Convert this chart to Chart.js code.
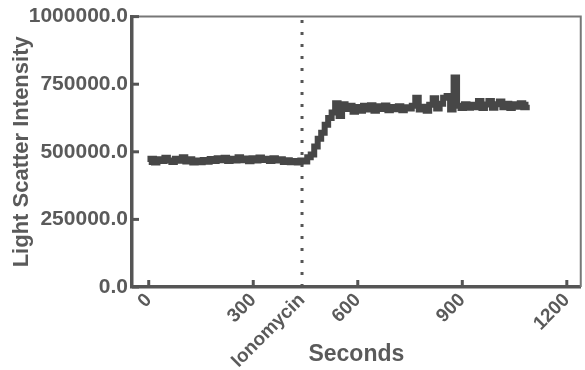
<!DOCTYPE html>
<html>
<head>
<meta charset="utf-8">
<script src="https://cdn.jsdelivr.net/npm/chart.js@4.4.1/dist/chart.umd.min.js"></script>
<style>
  body { margin: 0; background: #fff; }
  #wrap { width: 585px; height: 370px; }
</style>
</head>
<body>
<div id="wrap"><canvas id="scatterChart"></canvas></div>
<script>
// light scatter trace, one reading every 10 s
var seconds = [0, 10, 20, 30, 40, 50, 60, 70, 80, 90,
  100, 110, 120, 130, 140, 150, 160, 170, 180, 190,
  200, 210, 220, 230, 240, 250, 260, 270, 280, 290,
  300, 310, 320, 330, 340, 350, 360, 370, 380, 390,
  400, 410, 420, 430, 440, 450, 460, 470, 480, 490,
  500, 510, 520, 530, 540, 550, 560, 570, 580, 590,
  600, 610, 620, 630, 640, 650, 660, 670, 680, 690,
  700, 710, 720, 730, 740, 750, 760, 770, 780, 790,
  800, 810, 820, 830, 840, 850, 860, 870, 880, 890,
  900, 910, 920, 930, 940, 950, 960, 970, 980, 990,
  1000, 1010, 1020, 1030, 1040, 1050, 1060, 1070, 1080, 1090]
var intensity = [462000, 474000, 460000, 472000, 466000, 478000, 468000, 462000, 474000, 467000,
  480000, 464000, 472000, 460000, 468000, 461000, 470000, 463000, 473000, 466000,
  476000, 469000, 478000, 466000, 474000, 468000, 480000, 469000, 475000, 465000,
  476000, 468000, 479000, 470000, 474000, 466000, 476000, 468000, 472000, 462000,
  469000, 461000, 466000, 460000, 468000, 464000, 480000, 490000, 520000, 548000,
  570000, 600000, 625000, 645000, 680000, 632000, 676000, 658000, 670000, 648000,
  666000, 652000, 670000, 656000, 672000, 652000, 668000, 658000, 671000, 654000,
  666000, 657000, 668000, 654000, 665000, 660000, 670000, 700000, 656000, 667000,
  652000, 674000, 698000, 660000, 678000, 700000, 706000, 656000, 775000, 670000,
  662000, 676000, 663000, 674000, 665000, 688000, 662000, 675000, 688000, 663000,
  676000, 686000, 665000, 678000, 662000, 676000, 667000, 680000, 665000, 674000]

var ionomycinTime = 440
var xTicks = [0, 300, 440, 600, 900, 1200]
var xTickLabels = ['0', '300', 'Ionomycin', '600', '900', '1200']
var xTickMarks = [0, 300, 600, 900, 1200]
var yTicks = [0, 250000, 500000, 750000, 1000000]

var ink = '#555555'
var textColor = '#5a5a5a'

// inward tick marks plus the thin top/right frame
var framePlugin = {
  id: 'frame',
  afterDraw: function (chart) {
    var ctx = chart.ctx
    var area = chart.chartArea
    var xs = chart.scales.x
    var ys = chart.scales.y
    ctx.save()
    ctx.strokeStyle = '#777777'
    ctx.lineWidth = 2
    ctx.beginPath()
    ctx.moveTo(area.left, area.top)
    ctx.lineTo(area.right, area.top)
    ctx.lineTo(area.right, area.bottom)
    ctx.stroke()

    ctx.strokeStyle = ink
    ctx.lineWidth = 3
    xTickMarks.forEach(function (v) {
      var px = xs.getPixelForValue(v)
      ctx.beginPath()
      ctx.moveTo(px, area.bottom)
      ctx.lineTo(px, area.bottom - 7)
      ctx.stroke()
    })
    yTicks.forEach(function (v) {
      var py = ys.getPixelForValue(v)
      ctx.beginPath()
      ctx.moveTo(area.left, py)
      ctx.lineTo(area.left + 7, py)
      ctx.stroke()
    })
    ctx.restore()
  }
}

var traceData = seconds.map(function (s, i) {
  return { x: s, y: intensity[i] }
})

var chart = new Chart(document.getElementById('scatterChart').getContext('2d'), {
  type: 'line',
  data: {
    datasets: [{
        label: 'Light scatter',
        data: traceData,
        borderColor: '#474747',
        borderWidth: 6,
        stepped: 'middle',
        pointRadius: 0,
        fill: false
      },
      {
        label: 'Ionomycin',
        data: [{ x: ionomycinTime, y: yTicks[0] }, { x: ionomycinTime, y: yTicks[yTicks.length - 1] }],
        borderColor: ink,
        borderWidth: 3,
        borderDash: [3, 9],
        pointRadius: 0,
        fill: false
      }
    ]
  },
  options: {
    animation: false,
    responsive: true,
    maintainAspectRatio: false,
    layout: {
      padding: { top: 16, right: 2, left: 0, bottom: 0 }
    },
    plugins: {
      legend: { display: false },
      tooltip: { enabled: false }
    },
    scales: {
      x: {
        type: 'linear',
        min: -48,
        max: 1240,
        afterBuildTicks: function (scale) {
          scale.ticks = xTicks.map(function (v) { return { value: v } })
        },
        afterFit: function (scale) { scale.height = 83 },
        grid: { display: false, drawTicks: false },
        border: { display: true, color: ink, width: 3.5 },
        ticks: {
          autoSkip: false,
          minRotation: 45,
          maxRotation: 45,
          padding: 2,
          color: textColor,
          font: { family: 'Liberation Sans', weight: 'bold', size: 19 },
          callback: function (value) {
            var i = xTicks.indexOf(value)
            return i >= 0 ? xTickLabels[i] : ''
          }
        },
        title: {
          display: true,
          text: 'Seconds',
          color: textColor,
          padding: { top: 0, bottom: 2 },
          font: { family: 'Liberation Sans', weight: 'bold', size: 23 }
        }
      },
      y: {
        min: 0,
        max: 1000000,
        afterBuildTicks: function (scale) {
          scale.ticks = yTicks.map(function (v) { return { value: v } })
        },
        afterFit: function (scale) { scale.width = 132 },
        grid: { display: false, drawTicks: false },
        border: { display: true, color: ink, width: 3.5 },
        ticks: {
          padding: 4,
          color: textColor,
          font: { family: 'Liberation Sans', weight: 'bold', size: 21 },
          callback: function (value) { return value.toFixed(1) }
        },
        title: {
          display: true,
          text: 'Light Scatter Intensity',
          color: textColor,
          padding: { top: 9, bottom: 0 },
          font: { family: 'Liberation Sans', weight: 'bold', size: 22 }
        }
      }
    }
  },
  plugins: [framePlugin]
})
</script>
</body>
</html>
